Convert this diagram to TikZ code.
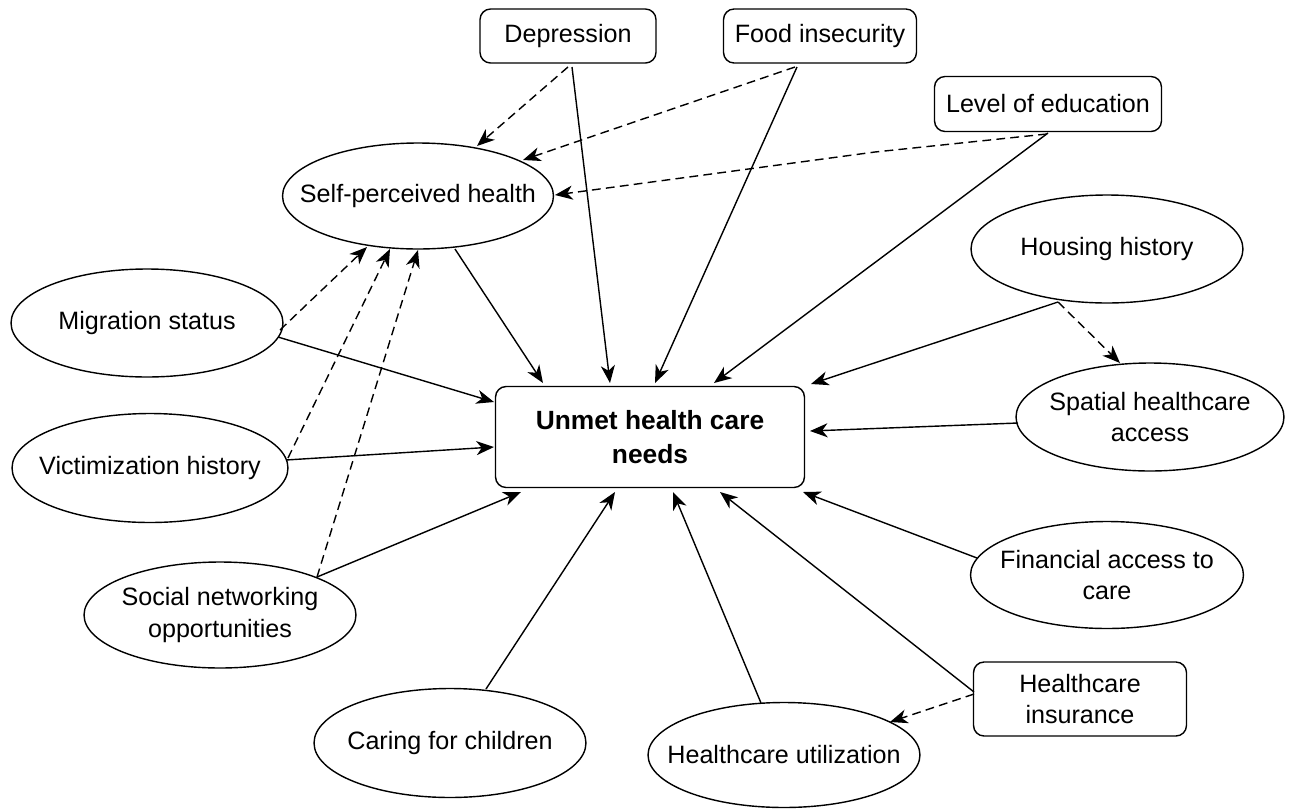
\documentclass[tikz,border=0pt]{standalone}
\usepackage{fontspec}
\setmainfont{Liberation Sans}
\usetikzlibrary{shapes.geometric,arrows.meta}
\newcommand\relpt[3]{([shift={(#2,#3)}]#1.center)}
\begin{document}
\begin{tikzpicture}[x=0.02cm,y=-0.02cm,
  every node/.style={font=\fontsize{14.3}{18}\selectfont},
  every label/.style={align=center, inner sep=0pt},
  ell/.style={ellipse, draw, line width=0.8pt, minimum width=5.44cm, minimum height=2.16cm, inner sep=0pt},
  box/.style={draw, line width=0.8pt, rounded corners=6pt, inner sep=0pt, align=center},
  conn/.style={line width=0.8pt, -{Stealth[length=10pt,width=8pt,inset=3pt]}},
  dconn/.style={conn, dash pattern=on 5pt off 3pt}]
\fill[white] (0,0) rectangle (1296,809);
\useasboundingbox (0,0) rectangle (1296,809);

% boxes
\node[box, minimum width=3.52cm, minimum height=1.08cm] (dep) at (568,36) {Depression};
\node[box, minimum width=3.86cm, minimum height=1.08cm] (food) at (820,36) {Food insecurity};
\node[box, minimum width=4.54cm, minimum height=1.10cm] (edu) at (1048,104) {Level of education};
\node[box, minimum width=4.26cm, minimum height=1.48cm] (ins) at (1080,699) {Healthcare\\insurance};
\node[box, minimum width=6.18cm, minimum height=2.02cm, font=\fontsize{15}{19.5}\selectfont\bfseries] (unmet) at (650,437) {Unmet health care\\needs};

% ellipses
\node[ell, minimum width=5.42cm, minimum height=2.12cm, label=center:Self-perceived health] (sph) at (418,196) {};
\node[ell, label=center:Migration status] (mig) at (147,323) {};
\node[ell, minimum width=5.52cm, minimum height=2.18cm, label=center:Victimization history] (vic) at (150,468) {};
\node[ell, minimum height=2.12cm, label={center:Social networking\\opportunities}] (soc) at (220,615) {};
\node[ell, label=center:Housing history] (hou) at (1107,249) {};
\node[ell, minimum width=5.36cm, label={center:Spatial healthcare\\access}] (spa) at (1150,417) {};
\node[ell, minimum width=5.46cm, minimum height=2.14cm, label={center:Financial access to\\care}] (fin) at (1107,575) {};
\node[ell, minimum height=2.18cm, label=center:Caring for children] (car) at (450,743) {};
\node[ell, minimum height=2.10cm, label=center:Healthcare utilization] (utl) at (784,755) {};

\coordinate (bend) at (875,152);

% solid connectors to unmet
\draw[conn] \relpt{dep}{4}{31} -- \relpt{unmet}{-40}{-54};
\draw[conn] \relpt{food}{-23}{31} -- \relpt{unmet}{5}{-54};
\draw[conn] \relpt{edu}{0}{29} -- \relpt{unmet}{64}{-54};
\draw[conn] \relpt{sph}{37}{53} -- \relpt{unmet}{-107}{-54};
\draw[conn] \relpt{hou}{-49}{53} -- \relpt{unmet}{161}{-53};
\draw[conn] \relpt{mig}{131}{14} -- \relpt{unmet}{-156}{-35};
\draw[conn] \relpt{spa}{-132}{6} -- \relpt{unmet}{160}{-6};
\draw[conn] \relpt{vic}{136}{-8} -- \relpt{unmet}{-156}{10};
\draw[conn] \relpt{soc}{97}{-38} -- \relpt{unmet}{-129}{55};
\draw[conn] \relpt{fin}{-130}{-17} -- \relpt{unmet}{153}{55};
\draw[conn] \relpt{car}{36}{-54} -- \relpt{unmet}{-35}{55};
\draw[conn] \relpt{utl}{-23}{-52} -- \relpt{unmet}{23}{55};
\draw[conn] \relpt{ins}{-106}{-7} -- \relpt{unmet}{70}{55};

% dashed connectors
\draw[dconn] \relpt{dep}{0}{31} -- \relpt{sph}{59}{-50};
\draw[dconn] \relpt{food}{-25}{31} -- \relpt{sph}{105}{-36};
\draw[dconn] \relpt{edu}{-1}{30} -- (bend) -- \relpt{sph}{137}{-1};
\draw[dconn] \relpt{hou}{-49}{53} -- \relpt{spa}{-30}{-54};
\draw[dconn] \relpt{ins}{-106}{-5} -- \relpt{utl}{106}{-33};
\draw[dconn] \relpt{mig}{133}{7} -- \relpt{sph}{-51}{51};
\draw[dconn] \relpt{vic}{138}{-10} -- \relpt{sph}{-28}{53};
\draw[dconn] \relpt{soc}{97}{-38} -- \relpt{sph}{0}{54};
\end{tikzpicture}
\end{document}
